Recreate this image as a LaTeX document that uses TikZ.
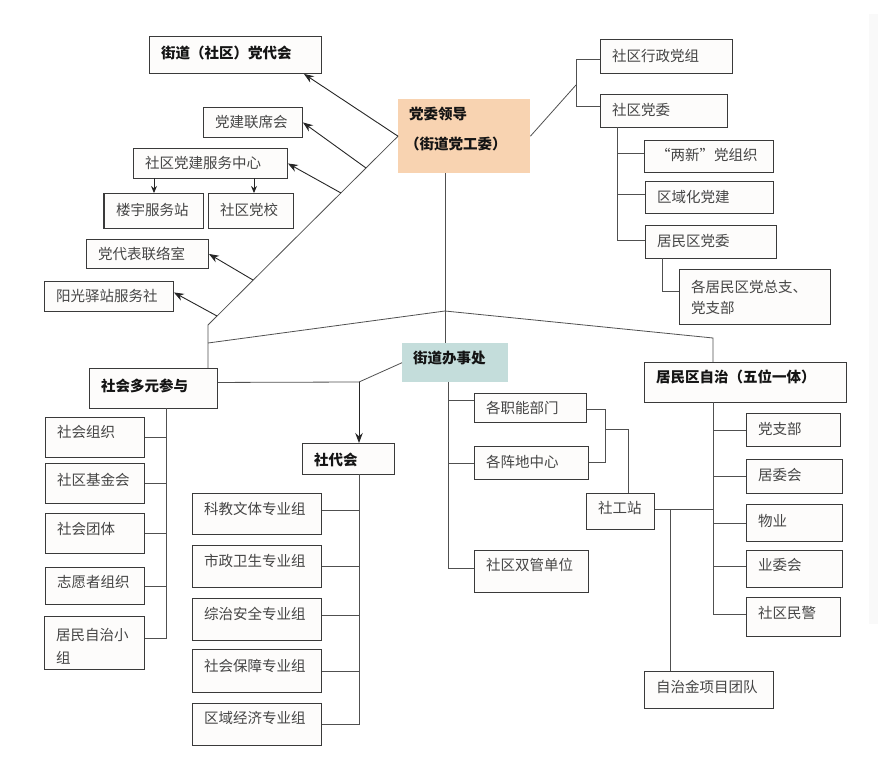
\documentclass[tikz,border=0pt]{standalone}
\usepackage{fontspec}
\setmainfont{Noto Sans CJK SC}
\usetikzlibrary{arrows.meta}
\definecolor{peach}{HTML}{F8D3B1}
\definecolor{teal2}{HTML}{C4DDDB}
\definecolor{boxfill}{HTML}{FDFCFB}
\definecolor{edgec}{HTML}{3A3A3A}
\definecolor{lnec}{HTML}{505050}
\definecolor{txtc}{HTML}{454545}
\tikzset{
  boxsty/.style={draw=edgec, line width=0.9pt, fill=boxfill, inner sep=0pt, rectangle},
  txt/.style={inner sep=0pt, text=txtc, font=\fontsize{14.5}{21}\selectfont, align=left},
  btxt/.style={inner sep=0pt, text=black!92, font=\fontsize{14.5}{21}\selectfont\bfseries, align=left},
  conn/.style={draw=lnec, line width=0.8pt},
  arr/.style={draw=black!85, line width=0.9pt, -{Stealth[length=10pt,width=7.5pt]}},
  sarr/.style={draw=black!85, line width=0.9pt, -{Stealth[length=7pt,width=6pt]}},
}
\newcommand\mybox[8]{%
  \node[boxsty, minimum width={(#4-#2)*1pt}, minimum height={(#5-#3)*1pt}, anchor=north west] (#1) at (#2,#3) {};
  \node[#7, anchor=west] (#1t) at (#2+12,#6) {#8};
}
\begin{document}
\begin{tikzpicture}[x=1pt,y=-1pt]
\useasboundingbox (0,0) rectangle (878,760);
\fill[gray!5] (869,14) rectangle (878,624);

% ---- top left
\mybox{dd}{149}{36}{321}{73}{53}{btxt}{街道（社区）党代会}
\mybox{lx}{203}{107}{302}{137}{122}{txt}{党建联席会}
\mybox{fw}{133}{148}{287}{178}{163}{txt}{社区党建服务中心}
\mybox{ly}{104}{193}{203}{228}{210}{txt}{楼宇服务站}
\draw[edgec, line width=1.8pt] (ly.north west) -- (ly.south west);
\mybox{dx}{208}{193}{293}{228}{210}{txt}{社区党校}
\mybox{ll}{86}{239}{208}{268}{254}{txt}{党代表联络室}
\mybox{yg}{44}{281}{173}{311}{296}{txt}{阳光驿站服务社}

% ---- party committee
\node[fill=peach, minimum width=132pt, minimum height=74pt, anchor=north west, inner sep=0pt] (dw) at (398,99) {};
\node[btxt, anchor=west] (dw1) at (409,114) {党委领导};
\node[btxt, anchor=west] (dw2) at (405,144) {（街道党工委）};

% ---- top right
\mybox{xz}{600}{39}{732}{73}{56}{txt}{社区行政党组}
\mybox{sw}{600}{94}{727}{127}{110}{txt}{社区党委}
\mybox{lxz}{644}{140}{773}{172}{155}{txt}{“两新”党组织}
\mybox{qy}{645}{181}{773}{213}{197}{txt}{区域化党建}
\mybox{jm}{645}{225}{776}{258}{241}{txt}{居民区党委}
\mybox{zz}{679}{269}{830}{324}{297.5}{txt}{各居民区党总支、\\党支部}

% ---- lower left
\mybox{sh}{89}{368}{217}{408}{386}{btxt}{社会多元参与}
\mybox{so}{45}{417}{144}{457}{432}{txt}{社会组织}
\mybox{sj}{45}{463}{144}{503}{480}{txt}{社区基金会}
\mybox{st}{45}{513}{144}{553}{529}{txt}{社会团体}
\mybox{zy}{45}{567}{144}{604}{582}{txt}{志愿者组织}
\mybox{jx}{44}{616}{144}{669}{646.5}{txt,font=\fontsize{14.5}{23}\selectfont}{居民自治小\\组}

% ---- she dai hui
\mybox{sd}{302}{443}{394}{474}{460}{btxt}{社代会}
\mybox{kj}{192}{493}{321}{534}{509}{txt}{科教文体专业组}
\mybox{sz}{192}{545}{321}{587}{561}{txt}{市政卫生专业组}
\mybox{za}{192}{598}{321}{640}{614}{txt}{综治安全专业组}
\mybox{sb}{192}{649}{321}{692}{666}{txt}{社会保障专业组}
\mybox{qj}{192}{703}{321}{745}{718}{txt}{区域经济专业组}

% ---- street office
\node[fill=teal2, anchor=north west, minimum width=106pt, minimum height=39pt, inner sep=0pt] (jd) at (402,343) {};
\node[btxt, anchor=west] (jdt) at (413,358) {街道办事处};
\mybox{zn}{474}{393}{586}{422}{408}{txt}{各职能部门}
\mybox{zd}{474}{446}{588}{479}{462}{txt}{各阵地中心}
\mybox{sgd}{474}{550}{588}{592}{565}{txt}{社区双管单位}
\mybox{sg}{586}{493}{654}{529}{508}{txt}{社工站}

% ---- residents autonomy
\mybox{jz}{644}{362}{846}{402}{377}{btxt}{居民区自治（五位一体）}
\mybox{dz}{746}{413}{840}{446}{429}{txt}{党支部}
\mybox{jw}{746}{459}{842}{493}{475}{txt}{居委会}
\mybox{wy}{746}{504}{842}{541}{521}{txt}{物业}
\mybox{yw}{746}{550}{842}{587}{565}{txt}{业委会}
\mybox{mj}{746}{597}{840}{636}{613}{txt}{社区民警}
\mybox{zj}{644}{671}{773}{708}{687}{txt}{自治金项目团队}

% ---- coordinates
\coordinate (dl) at (208,325);
\coordinate (lc) at (208,343);
\coordinate (pk) at (445,311);
\coordinate (rc) at (713,338);
\coordinate (a2) at (366,168);
\coordinate (a3) at (341,193);
\coordinate (a4) at (253,280);
\coordinate (a5) at (217,316);
\coordinate (s1) at (154,178);
\coordinate (s2) at (254,178);
\coordinate (rb) at (576,85);
\coordinate (rt) at (576,59);
\coordinate (rbt) at (576,106);
\coordinate (sv) at (617,127);
\coordinate (jv) at (662,258);
\coordinate (shv) at (166,408);
\coordinate (j1) at (359,382);
\coordinate (sdv) at (359,474);
\coordinate (jdv) at (448,382);
\coordinate (bt) at (605,409);
\coordinate (bb) at (605,462);
\coordinate (bm) at (605,429);
\coordinate (k1) at (670,509);
\coordinate (jzv) at (713,402);

% ---- main skeleton
\draw[conn] (dw.west) -- (dl) -- (dl |- sh.north);
\draw[conn] (lc) -- (pk) -- (rc) -- (rc |- jz.north);
\draw[conn] (pk |- dw.south) -- (pk |- jd.north);

% ---- arrows to the upper left
\draw[arr] (dw.west) -- ([xshift=-18pt]dd.south east);
\draw[arr] (a2) -- (lx.east);
\draw[arr] (a3) -- (fw.east);
\draw[arr] (a4) -- (ll.east);
\draw[arr] (a5) -- ([yshift=4pt]yg.east);
\draw[sarr] (s1) -- (s1 |- ly.north);
\draw[sarr] (s2) -- (s2 |- dx.north);

% ---- upper right
\draw[conn] (dw.east) -- (rb);
\draw[conn] (xz.west |- rt) -- (rt) -- (rbt) -- (sw.west |- rbt);
\draw[conn] (sv) |- ([yshift=3pt]lxz.west);
\draw[conn] (sv) |- ([yshift=3pt]qy.west);
\draw[conn] (sv) |- ([yshift=2pt]jm.west);
\draw[conn] (jv) |- ([yshift=6pt]zz.west);

% ---- lower left
\draw[conn] (shv) |- (so.east);
\draw[conn] (shv) |- (sj.east);
\draw[conn] (shv) |- (st.east);
\draw[conn] (shv) |- (zy.east);
\draw[conn] (shv) |- ([yshift=5pt]jx.east);
\draw[conn] ([yshift=6pt]sh.east) -- (j1) -- (jd.west);
\draw[arr] (j1) -- (j1 |- sd.north);
\draw[conn] (sdv) |- ([yshift=4pt]kj.east);
\draw[conn] (sdv) |- (sz.east);
\draw[conn] (sdv) |- ([yshift=4pt]za.east);
\draw[conn] (sdv) |- (sb.east);
\draw[conn] (sdv) |- (qj.east);

% ---- street office branches
\draw[conn] (jdv) |- ([yshift=8pt]zn.west);
\draw[conn] (jdv) |- (zd.west);
\draw[conn] (jdv) |- ([yshift=3pt]sgd.west);
\draw[conn] (zn.east |- bt) -- (bt) -- (bb) -- (zd.east |- bb);
\draw[conn] (bm) -| ([xshift=8pt]sg.north);
\draw[conn] (sg.east |- k1) -- (k1 -| jzv);
\draw[conn] (k1) -- (k1 |- zj.north);

% ---- residents autonomy branches
\draw[conn] (jzv) |- (dz.west);
\draw[conn] (jzv) |- (jw.west);
\draw[conn] (jzv) |- (wy.west);
\draw[conn] (jzv) |- ([yshift=3pt]yw.west);
\draw[conn] (jzv) |- ([yshift=3pt]mj.west);
\end{tikzpicture}
\end{document}
